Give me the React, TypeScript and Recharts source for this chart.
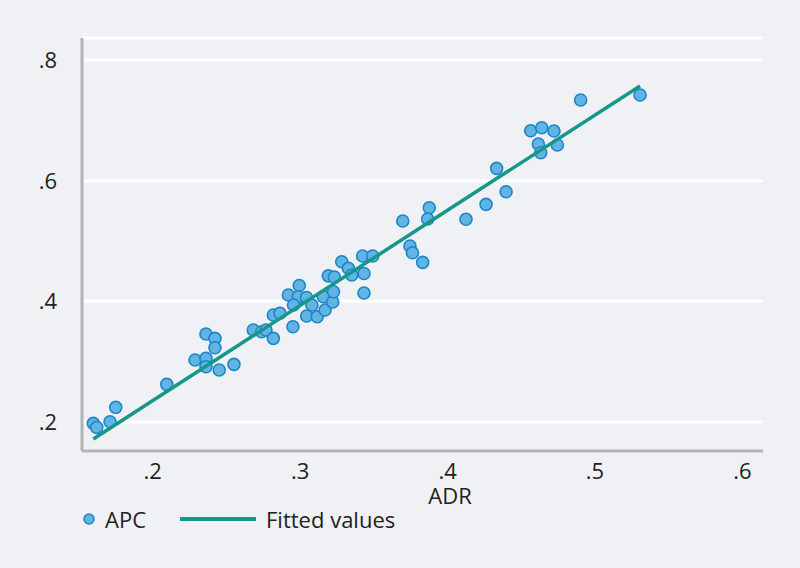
import {
    CartesianGrid,
    Scatter,
    ScatterChart,
    XAxis,
    YAxis,
} from 'recharts'

// ADR (x) and APC (y)
const adr = [
    0.1597, 0.162, 0.171, 0.1749, 0.2095, 0.2287, 0.2361, 0.2361, 0.2361, 0.2422,
    0.2422, 0.2451, 0.2551, 0.2682, 0.2739, 0.2768, 0.2818, 0.2818, 0.2863, 0.292,
    0.2994, 0.2987, 0.2955, 0.2951, 0.3043, 0.308, 0.3044, 0.3116, 0.3169, 0.3157,
    0.3221, 0.3226, 0.3191, 0.3232, 0.3282, 0.3327, 0.335, 0.3424, 0.3492, 0.3433,
    0.3433, 0.3696, 0.3876, 0.3865, 0.3745, 0.3762, 0.3831, 0.4125, 0.4261, 0.4397,
    0.4333, 0.4564, 0.4639, 0.4722, 0.4616, 0.4632, 0.4745, 0.4903, 0.5306,
]
const apc = [
    0.1978, 0.1912, 0.2005, 0.2244, 0.2625, 0.3028, 0.3056, 0.2917, 0.3459, 0.3387,
    0.3232, 0.2862, 0.2956, 0.3525, 0.3497, 0.3525, 0.3387, 0.3774, 0.3802, 0.4105,
    0.4263, 0.4077, 0.3939, 0.358, 0.4064, 0.3939, 0.3757, 0.3745, 0.3856, 0.4077,
    0.3989, 0.416, 0.4423, 0.4403, 0.4657, 0.4548, 0.4437, 0.4752, 0.4752, 0.4461,
    0.4138, 0.5332, 0.5552, 0.5365, 0.4917, 0.4806, 0.4647, 0.536, 0.5608, 0.5817,
    0.6205, 0.6828, 0.6878, 0.6823, 0.6608, 0.6464, 0.6591, 0.7337, 0.742,
]

// fitted line endpoints
const fittedX = [0.1597, 0.5306]
const fittedY = [0.172, 0.757]

const xTicks = [0.2, 0.3, 0.4, 0.5, 0.6]
const yTicks = [0.2, 0.4, 0.6, 0.8]

const apcData = adr.map((x, i) => ({ x, y: apc[i] }))
const fittedData = fittedX.map((x, i) => ({ x, y: fittedY[i] }))

const BG = '#eff1f4'
const DOT_FILL = '#62b4e4'
const DOT_STROKE = '#1c86c8'
const LINE = '#15978a'
const AXIS = '#b3b3b3'
const TEXT = '#222'
const FONT = 'Open Sans, sans-serif'
const FS = 22

const fmt = (v: number) => String(v).replace(/^0/, '')

const Dot = (props: any) => (
    <circle
        cx={props.cx}
        cy={props.cy}
        r={6}
        fill={DOT_FILL}
        stroke={DOT_STROKE}
        strokeWidth={1.6}
    />
)

const NoDot = () => <g />

const AdrLabel = (props: any) => {
    const vb = props.viewBox || {}
    return (
        <text
            x={vb.x + 368}
            y={504}
            textAnchor="middle"
            fontSize={FS}
            fill={TEXT}
        >
            ADR
        </text>
    )
}

const App = () => {
    return (
        <div
            style={{
                position: 'absolute',
                left: 0,
                top: 0,
                width: 800,
                height: 568,
                background: BG,
                fontFamily: FONT,
            }}
        >
            <ScatterChart
                width={800}
                height={568}
                margin={{ top: 38, right: 37, bottom: 57, left: 0 }}
            >
                <CartesianGrid
                    vertical={false}
                    stroke="#ffffff"
                    strokeWidth={3}
                />
                <XAxis
                    type="number"
                    dataKey="x"
                    domain={[0.152, 0.614]}
                    ticks={xTicks}
                    tickFormatter={fmt}
                    height={60}
                    tickLine={false}
                    tickSize={0}
                    tickMargin={12}
                    axisLine={{ stroke: AXIS, strokeWidth: 3 }}
                    tick={{ fontSize: FS, fill: TEXT }}
                    label={<AdrLabel />}
                />
                <YAxis
                    type="number"
                    dataKey="y"
                    domain={[0.152, 0.8365]}
                    ticks={yTicks}
                    tickFormatter={fmt}
                    width={82}
                    tickLine={false}
                    tickSize={0}
                    tickMargin={25}
                    axisLine={{ stroke: AXIS, strokeWidth: 3 }}
                    tick={{ fontSize: FS, fill: TEXT }}
                />
                <Scatter
                    name="APC"
                    data={apcData}
                    shape={<Dot />}
                    isAnimationActive={false}
                />
                <Scatter
                    name="Fitted values"
                    data={fittedData}
                    shape={<NoDot />}
                    line={{ stroke: LINE, strokeWidth: 3.5 }}
                    lineType="joint"
                    isAnimationActive={false}
                />
            </ScatterChart>
            <div
                style={{
                    position: 'absolute',
                    left: 82,
                    top: 505,
                    display: 'flex',
                    alignItems: 'center',
                    fontSize: FS,
                    color: TEXT,
                    lineHeight: '28px',
                }}
            >
                <svg width={14} height={14} style={{ marginRight: 9 }}>
                    <circle
                        cx={7}
                        cy={7}
                        r={5}
                        fill={DOT_FILL}
                        stroke={DOT_STROKE}
                        strokeWidth={1.5}
                    />
                </svg>
                <span>APC</span>
                <svg width={76} height={6} style={{ marginLeft: 34, marginRight: 10 }}>
                    <line x1={0} y1={3} x2={76} y2={3} stroke={LINE} strokeWidth={4} />
                </svg>
                <span>Fitted values</span>
            </div>
        </div>
    )
}

export default App
